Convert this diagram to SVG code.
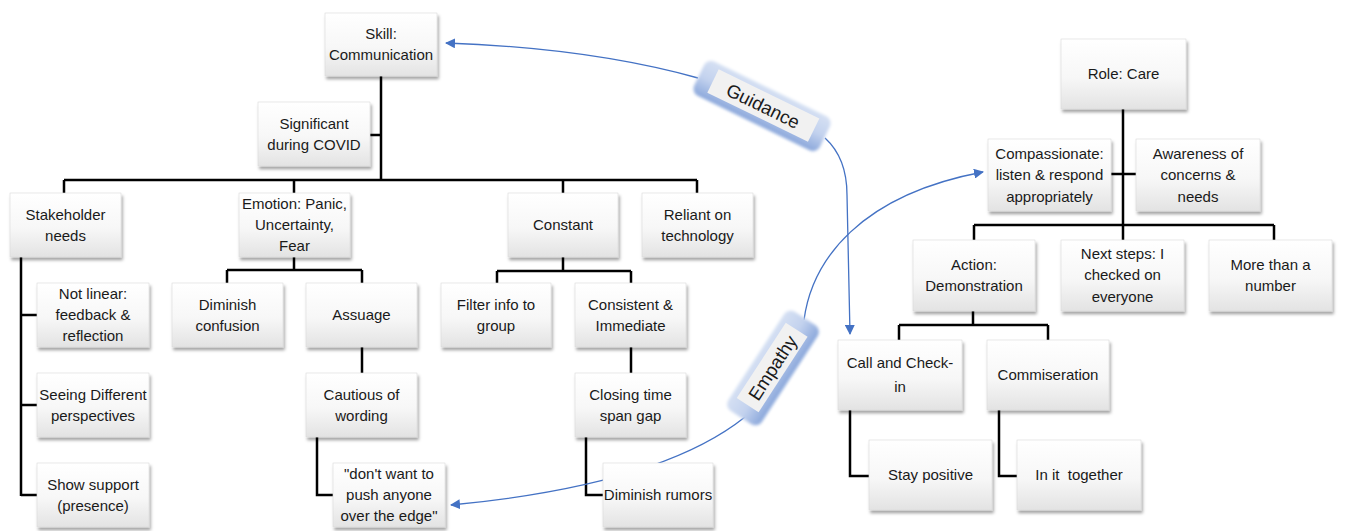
<svg xmlns="http://www.w3.org/2000/svg" width="1345" height="531" viewBox="0 0 1345 531">
<defs>
<linearGradient id="boxg" x1="0" y1="0" x2="0" y2="1">
<stop offset="0" stop-color="#ffffff"/><stop offset="0.55" stop-color="#f7f7f7"/><stop offset="1" stop-color="#e3e3e3"/>
</linearGradient>
<linearGradient id="lblg" x1="0" y1="0" x2="0" y2="1">
<stop offset="0" stop-color="#d5e0f3"/><stop offset="0.5" stop-color="#c3d2ee"/><stop offset="1" stop-color="#8aa7db"/>
</linearGradient>
<filter id="sh" x="-10%" y="-10%" width="125%" height="130%">
<feDropShadow dx="1.5" dy="3" stdDeviation="1.8" flood-color="#000" flood-opacity="0.35"/>
</filter>
<filter id="blur" x="-20%" y="-40%" width="140%" height="180%"><feGaussianBlur stdDeviation="1.8"/></filter>
<marker id="arr" viewBox="0 0 10 10" refX="9" refY="5" markerWidth="10" markerHeight="10" markerUnits="userSpaceOnUse" orient="auto">
<path d="M0,0 L10,5 L0,10 z" fill="#4472c4"/>
</marker>
</defs>
<style>
.box{fill:url(#boxg);stroke:#d9d9d9;stroke-width:0.6;filter:url(#sh)}
.t{font-family:"Liberation Sans",Arial,sans-serif;font-size:15px;fill:#1a1a1a;text-anchor:middle}
.ln{fill:none;stroke:#000;stroke-width:2.5}
.bl{fill:none;stroke:#4472c4;stroke-width:1.3;marker-end:url(#arr)}
.lo{fill:url(#lblg);filter:url(#blur)}
.li{fill:#f1f1f1}
.lt{font-family:"Liberation Sans",Arial,sans-serif;font-size:18.5px;fill:#1a1a1a;text-anchor:middle}
</style>
<rect width="1345" height="531" fill="#fff"/>

<g id="connectors">
<path class="ln" d="M381,76 V180 M370,135 H381 M64,180 H697 M64,180 V193 M294,180 V193 M563,180 V193 M697,180 V193"/>
<path class="ln" d="M21,257 V496 M21,315 H37 M21,405 H37 M21,495 H37"/>
<path class="ln" d="M294,257 V270 M227,270 H362 M227,270 V283 M362,270 V283 M362,347 V373 M317,437 V495 H333"/>
<path class="ln" d="M563,257 V271 M497,271 H631 M497,271 V283 M631,271 V283 M631,347 V373 M586,437 V495 H603"/>
<path class="ln" d="M1123,109 V225 M1111,174 H1136 M974,225 H1274 M974,225 V240 M1123,225 V240 M1274,225 V240"/>
<path class="ln" d="M973,311 V325 M899,325 H1048 M899,325 V340 M1048,325 V340 M850,410 V476 H869 M999,410 V476 H1017"/>
<path class="bl" d="M698,78 Q590,48 446,43"/>
<path class="bl" d="M825,138 Q847,158 847,195 L850,334"/>
<path class="bl" d="M804,320 C812,260 860,195 983,172"/>
<path class="bl" d="M745,417 Q660,485 451,505"/>
</g>

<g id="label-guidance" transform="translate(762,106) rotate(26)">
<rect class="lo" x="-70" y="-19" width="140" height="38" rx="8"/>
<rect class="li" x="-55" y="-14" width="112" height="26"/>
<text class="lt" x="1" y="6">Guidance</text>
</g>
<g id="label-empathy" transform="translate(773,368) rotate(-57)">
<rect class="lo" x="-59" y="-20" width="118" height="40" rx="8"/>
<rect class="li" x="-45" y="-14" width="90" height="26"/>
<text class="lt" x="0" y="6">Empathy</text>
</g>

<g id="n-skill"><rect class="box" x="325" y="13" width="112" height="63"/><text class="t" x="381" y="39">Skill:</text><text class="t" x="381" y="60">Communication</text></g>
<g id="n-covid"><rect class="box" x="258" y="102" width="112" height="64"/><text class="t" x="314" y="129">Significant</text><text class="t" x="314" y="150">during COVID</text></g>
<g id="n-stake"><rect class="box" x="10" y="193" width="111" height="64"/><text class="t" x="65.5" y="220">Stakeholder</text><text class="t" x="65.5" y="241">needs</text></g>
<g id="n-emotion"><rect class="box" x="239" y="193" width="111" height="64"/><text class="t" x="294.5" y="209">Emotion: Panic,</text><text class="t" x="294.5" y="230">Uncertainty,</text><text class="t" x="294.5" y="251">Fear</text></g>
<g id="n-constant"><rect class="box" x="508" y="193" width="110" height="64"/><text class="t" x="563" y="230">Constant</text></g>
<g id="n-reliant"><rect class="box" x="642" y="193" width="111" height="64"/><text class="t" x="697.5" y="220">Reliant on</text><text class="t" x="697.5" y="241">technology</text></g>
<g id="n-notlinear"><rect class="box" x="37" y="283" width="112" height="64"/><text class="t" x="93" y="299">Not linear:</text><text class="t" x="93" y="320">feedback &amp;</text><text class="t" x="93" y="341">reflection</text></g>
<g id="n-seeing"><rect class="box" x="37" y="373" width="112" height="64"/><text class="t" x="93" y="400">Seeing Different</text><text class="t" x="93" y="421">perspectives</text></g>
<g id="n-show"><rect class="box" x="37" y="463" width="112" height="64"/><text class="t" x="93" y="490">Show support</text><text class="t" x="93" y="511">(presence)</text></g>
<g id="n-confusion"><rect class="box" x="172" y="283" width="111" height="64"/><text class="t" x="227.5" y="310">Diminish</text><text class="t" x="227.5" y="331">confusion</text></g>
<g id="n-assuage"><rect class="box" x="306" y="283" width="111" height="64"/><text class="t" x="361.5" y="320">Assuage</text></g>
<g id="n-cautious"><rect class="box" x="306" y="373" width="111" height="64"/><text class="t" x="361.5" y="400">Cautious of</text><text class="t" x="361.5" y="421">wording</text></g>
<g id="n-dontwant"><rect class="box" x="333" y="463" width="112" height="64"/><text class="t" x="389" y="479">"don't want to</text><text class="t" x="389" y="500">push anyone</text><text class="t" x="389" y="521">over the edge"</text></g>
<g id="n-filter"><rect class="box" x="441" y="283" width="110" height="64"/><text class="t" x="496" y="310">Filter info to</text><text class="t" x="496" y="331">group</text></g>
<g id="n-consistent"><rect class="box" x="575" y="283" width="111" height="64"/><text class="t" x="630.5" y="310">Consistent &amp;</text><text class="t" x="630.5" y="331">Immediate</text></g>
<g id="n-closing"><rect class="box" x="575" y="373" width="111" height="64"/><text class="t" x="630.5" y="400">Closing time</text><text class="t" x="630.5" y="421">span gap</text></g>
<g id="n-rumors"><rect class="box" x="603" y="463" width="110" height="64"/><text class="t" x="658" y="500">Diminish rumors</text></g>
<g id="n-role"><rect class="box" x="1061" y="39" width="125" height="70"/><text class="t" x="1123.5" y="79">Role: Care</text></g>
<g id="n-compassionate"><rect class="box" x="988" y="139" width="123" height="72"/><text class="t" x="1049.5" y="159">Compassionate:</text><text class="t" x="1049.5" y="180">listen &amp; respond</text><text class="t" x="1049.5" y="202">appropriately</text></g>
<g id="n-awareness"><rect class="box" x="1136" y="139" width="124" height="72"/><text class="t" x="1198" y="159">Awareness of</text><text class="t" x="1198" y="180">concerns &amp;</text><text class="t" x="1198" y="202">needs</text></g>
<g id="n-action"><rect class="box" x="913" y="240" width="122" height="71"/><text class="t" x="974" y="270">Action:</text><text class="t" x="974" y="291">Demonstration</text></g>
<g id="n-next"><rect class="box" x="1061" y="240" width="123" height="71"/><text class="t" x="1122.5" y="259">Next steps: I</text><text class="t" x="1122.5" y="280">checked on</text><text class="t" x="1122.5" y="302">everyone</text></g>
<g id="n-more"><rect class="box" x="1209" y="240" width="123" height="71"/><text class="t" x="1270.5" y="270">More than a</text><text class="t" x="1270.5" y="291">number</text></g>
<g id="n-call"><rect class="box" x="838" y="340" width="124" height="70"/><text class="t" x="900" y="368">Call and Check-</text><text class="t" x="900" y="392">in</text></g>
<g id="n-commis"><rect class="box" x="987" y="340" width="122" height="70"/><text class="t" x="1048" y="380">Commiseration</text></g>
<g id="n-stay"><rect class="box" x="869" y="440" width="123" height="70"/><text class="t" x="930.5" y="480">Stay positive</text></g>
<g id="n-together"><rect class="box" x="1017" y="440" width="124" height="70"/><text class="t" x="1079" y="480" xml:space="preserve">In it  together</text></g>
</svg>
